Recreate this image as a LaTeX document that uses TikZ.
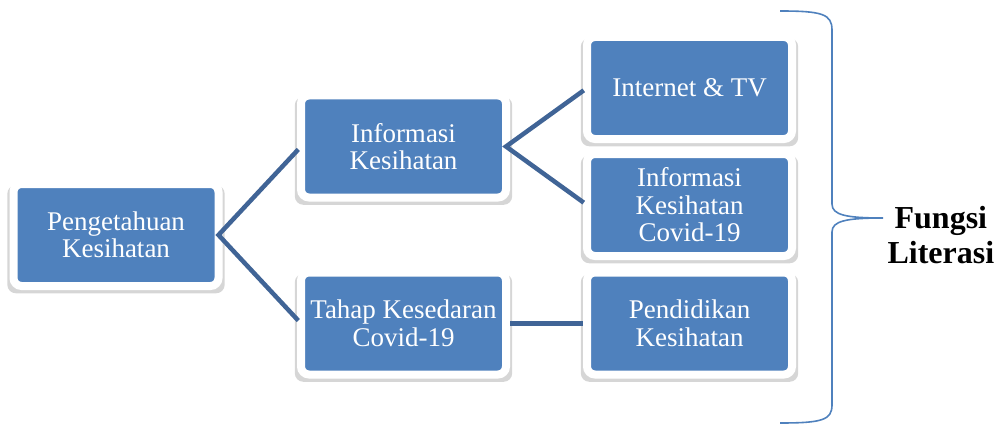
\documentclass[tikz,border=0pt]{standalone}
\usepackage{fontspec}
\setmainfont{Liberation Serif}
\usepackage{xcolor}
\usepackage{tikz}
\usetikzlibrary{positioning,shadows}

\definecolor{boxblue}{RGB}{79,129,189}
\definecolor{linkblue}{RGB}{64,100,150}

\begin{document}
\begin{tikzpicture}[
    x=1pt, y=-1pt,
    box/.style={
        draw=white,
        line width=8pt,
        fill=boxblue,
        rounded corners=8pt,
        minimum width=205pt,
        minimum height=102pt,
        inner sep=0pt,
        outer sep=0pt,
        align=center,
        text=white,
        font=\fontsize{27}{27.5}\selectfont,
        drop shadow={shadow xshift=0pt, shadow yshift=-4pt, shadow scale=1.06, opacity=0.16, fill=black}
    },
    link/.style={draw=linkblue, line width=4.5pt, shorten <=4pt, shorten >=4pt},
    brace/.style={draw=boxblue, line width=1.6pt},
    label/.style={font=\fontsize{32}{35}\selectfont\bfseries, align=center}
]
\useasboundingbox (0,0) rectangle (995,425);

\node[box] (pengetahuan) at (116,235) {Pengetahuan\\Kesihatan};
\node[box] (info) at (403.5,146.5) {Informasi\\Kesihatan};
\node[box, below=75pt of info] (tahap) {Tahap Kesedaran\\Covid-19};
\node[box] (internet) at (689.5,88) {Internet \& TV};
\node[box, below=15pt of internet] (covid) {Informasi\\Kesihatan\\Covid-19};
\node[box, right=81pt of tahap] (pendidikan) {Pendidikan\\Kesihatan};

\draw[link] (info.west) -- (pengetahuan.east) -- (tahap.west);
\draw[link] (internet.west) -- (info.east) -- (covid.west);
\draw[link] (tahap.east) -- (pendidikan.west);

% brace
\coordinate (tip) at (883,218);
\draw[brace] (780,11) .. controls (822,11) and (832,14) .. (832,30)
    -- (832,204) .. controls (832,215) and (846,218) .. (tip)
    .. controls (846,218) and (832,221) .. (832,232)
    -- (832,405) .. controls (832,420) and (822,423) .. (780,423);

\node[label, anchor=west] (fungsi) at ([xshift=1pt, yshift=-17pt]tip) {Fungsi\\Literasi};
\end{tikzpicture}
\end{document}
